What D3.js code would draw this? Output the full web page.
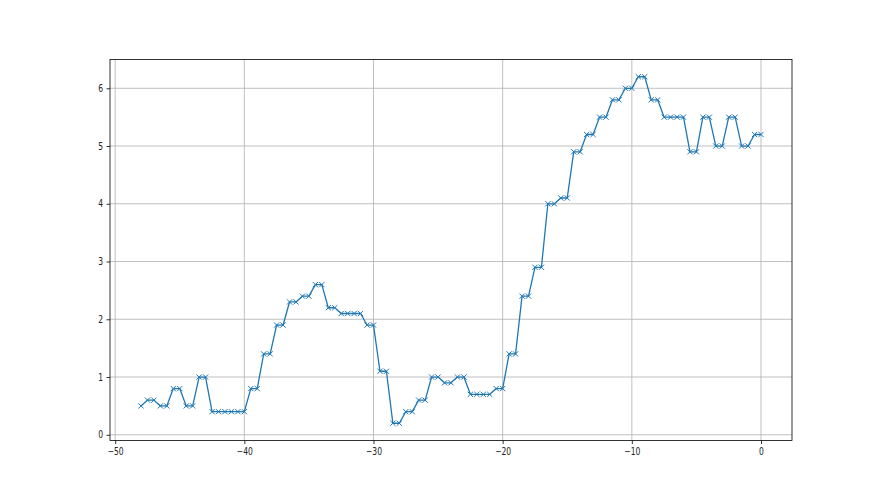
<!DOCTYPE html>
<html>
<head>
<meta charset="utf-8">
<script src="https://cdn.jsdelivr.net/npm/d3@7"></script>
<style>
html,body{margin:0;padding:0;background:#fff;}
svg{display:block;}
text{font-family:"DejaVu Sans",sans-serif;}
</style>
</head>
<body>
<svg id="chart" width="880" height="495"></svg>
<script>
const xValues = [-48,-47.5,-47,-46.5,-46,-45.5,-45,-44.5,-44,-43.5,-43,-42.5,-42,-41.5,-41,-40.5,-40,
-39.5,-39,-38.5,-38,-37.5,-37,-36.5,-36,-35.5,-35,-34.5,-34,-33.5,-33,-32.5,-32,-31.5,-31,-30.5,-30,
-29.5,-29,-28.5,-28,-27.5,-27,-26.5,-26,-25.5,-25,-24.5,-24,-23.5,-23,-22.5,-22,-21.5,-21,-20.5,-20,
-19.5,-19,-18.5,-18,-17.5,-17,-16.5,-16,-15.5,-15,-14.5,-14,-13.5,-13,-12.5,-12,-11.5,-11,-10.5,-10,
-9.5,-9,-8.5,-8,-7.5,-7,-6.5,-6,-5.5,-5,-4.5,-4,-3.5,-3,-2.5,-2,-1.5,-1,-0.5,0];
const yValues = [0.5,0.6,0.6,0.5,0.5,0.8,0.8,0.5,0.5,1.0,1.0,0.4,0.4,0.4,0.4,0.4,0.4,
0.8,0.8,1.4,1.4,1.9,1.9,2.3,2.3,2.4,2.4,2.6,2.6,2.2,2.2,2.1,2.1,2.1,2.1,1.9,1.9,
1.1,1.1,0.2,0.2,0.4,0.4,0.6,0.6,1.0,1.0,0.9,0.9,1.0,1.0,0.7,0.7,0.7,0.7,0.8,0.8,
1.4,1.4,2.4,2.4,2.9,2.9,4.0,4.0,4.1,4.1,4.9,4.9,5.2,5.2,5.5,5.5,5.8,5.8,6.0,6.0,
6.2,6.2,5.8,5.8,5.5,5.5,5.5,5.5,4.9,4.9,5.5,5.5,5.0,5.0,5.5,5.5,5.0,5.0,5.2,5.2];
const xTicks = [-50,-40,-30,-20,-10,0];
const yTicks = [0,1,2,3,4,5,6];

const data = xValues.map((x,i)=>({x, y:yValues[i]}));
const mLeft = 110, mRight = 792, mTop = 59.4, mBottom = 440.55;
const svg = d3.select('#chart');

const xmin = d3.min(xValues), xmax = d3.max(xValues);
const ymin = d3.min(yValues), ymax = d3.max(yValues);
const xpad = (xmax-xmin)*0.05, ypad = (ymax-ymin)*0.05;
const x = d3.scaleLinear().domain([xmin-xpad, xmax+xpad]).range([mLeft,mRight]);
const y = d3.scaleLinear().domain([ymin-ypad, ymax+ypad]).range([mBottom,mTop]);

// grid
const g = svg.append('g');
g.selectAll('.vg').data(xTicks).enter().append('line')
 .attr('x1',d=>x(d)).attr('x2',d=>x(d)).attr('y1',mTop).attr('y2',mBottom)
 .attr('stroke','#b0b0b0').attr('stroke-width',0.8);
g.selectAll('.hg').data(yTicks).enter().append('line')
 .attr('y1',d=>y(d)).attr('y2',d=>y(d)).attr('x1',mLeft).attr('x2',mRight)
 .attr('stroke','#b0b0b0').attr('stroke-width',0.8);

// line
svg.append('path').datum(data)
 .attr('fill','none').attr('stroke','#1f77b4').attr('stroke-width',1.3)
 .attr('stroke-linejoin','round')
 .attr('d', d3.line().x(d=>x(d.x)).y(d=>y(d.y)));

// markers
const ms = 2.6;
svg.append('g').selectAll('path').data(data).enter().append('path')
 .attr('d', d=>{const cx=x(d.x), cy=y(d.y);
   return `M${cx-ms},${cy-ms}L${cx+ms},${cy+ms}M${cx-ms},${cy+ms}L${cx+ms},${cy-ms}`;})
 .attr('stroke','#1f77b4').attr('stroke-width',1).attr('fill','none');

// axes
const fmt = d=>String(d).replace('-','\u2212');
const xAxis = d3.axisBottom(x).tickValues(xTicks).tickSize(3.5).tickPadding(3.5).tickFormat(fmt);
const yAxis = d3.axisLeft(y).tickValues(yTicks).tickSize(3.5).tickPadding(3.5).tickFormat(fmt);
const ax = svg.append('g').attr('transform',`translate(0,${mBottom})`).call(xAxis);
const ay = svg.append('g').attr('transform',`translate(${mLeft},0)`).call(yAxis);
[ax,ay].forEach(a=>{
  a.select('.domain').remove();
  a.selectAll('.tick line').attr('stroke','#000').attr('stroke-width',0.8);
  a.selectAll('.tick text').attr('fill','#222').style('font-size','10px').style('font-family','"DejaVu Sans", sans-serif')
   .each(function(){ const w=this.getComputedTextLength(); d3.select(this).attr('textLength', w*0.76).attr('lengthAdjust','spacingAndGlyphs'); });
});
// spines
svg.append('rect').attr('x',mLeft).attr('y',mTop).attr('width',mRight-mLeft).attr('height',mBottom-mTop)
 .attr('fill','none').attr('stroke','#000').attr('stroke-width',0.8);
</script>
</body>
</html>
